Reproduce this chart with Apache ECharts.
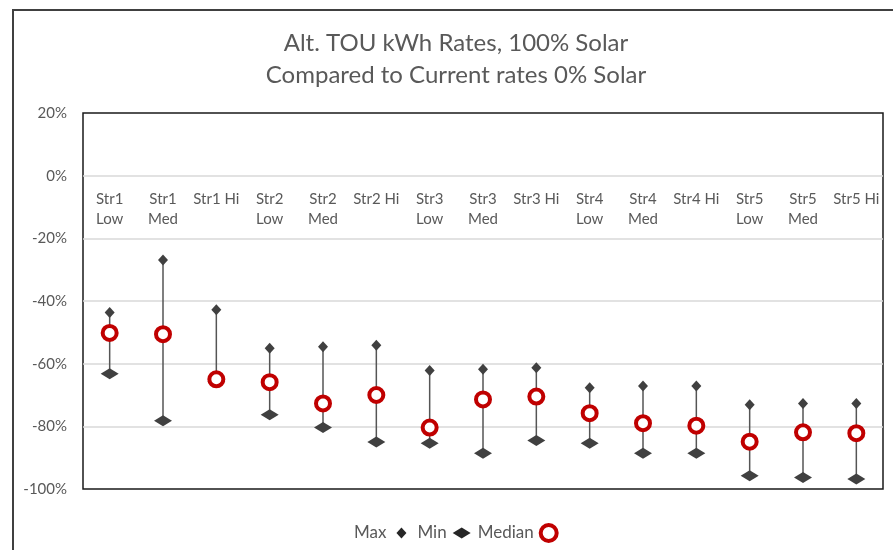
<!DOCTYPE html>
<html>
<head>
<meta charset="utf-8">
<title>Alt. TOU kWh Rates, 100% Solar</title>
<script src="https://cdn.jsdelivr.net/npm/echarts@6/dist/echarts.min.js"></script>
<style>
  html, body { margin: 0; padding: 0; background: #fff; }
  #chart { width: 893px; height: 550px; }
</style>
</head>
<body>
<div id="chart"></div>
<script>
// rate category per strata / usage level
var categories = [
  'Str1\nLow', 'Str1\nMed', 'Str1 Hi',
  'Str2\nLow', 'Str2\nMed', 'Str2 Hi',
  'Str3\nLow', 'Str3\nMed', 'Str3 Hi',
  'Str4\nLow', 'Str4\nMed', 'Str4 Hi',
  'Str5\nLow', 'Str5\nMed', 'Str5 Hi'
];
// % change vs current rates
var maxValues = [-43.7, -26.9, -42.8, -55.1, -54.6, -54.1, -62.2, -61.8, -61.3, -67.7, -67.1, -67.1, -73.1, -72.7, -72.7];
var minValues = [-63.2, -78.2, -65.7, -76.3, -80.4, -85.0, -85.4, -88.6, -84.5, -85.4, -88.6, -88.6, -95.8, -96.3, -96.8];
var medianValues = [-50.2, -50.6, -65.0, -65.9, -72.7, -70.0, -80.4, -71.4, -70.5, -75.8, -79.0, -79.8, -84.9, -81.9, -82.2];
var yTicks = { min: -100, max: 20, step: 20 };

var textColor = '#595959';
var markColor = '#404040';
var fontFamily = 'Lato, "Open Sans", sans-serif';

var gridTop = 113;
var gridBottom = 61;
var gridHeight = 550 - gridTop - gridBottom;
// category labels sit just under the 0% line, as in the original
var zeroOffset = -gridHeight * (0 - yTicks.min) / (yTicks.max - yTicks.min);

var chart = echarts.init(document.getElementById('chart'));

// whisker data: [index, min, max]
var whiskers = categories.map(function (c, i) {
  return [i, minValues[i], maxValues[i]];
});

var option = {
  animation: false,
  textStyle: { fontFamily: fontFamily },
  title: {
    text: 'Alt. TOU kWh Rates, 100% Solar\nCompared to Current rates 0% Solar',
    left: 451,
    top: 22,
    padding: 5,
    textAlign: 'center',
    textStyle: {
      fontFamily: fontFamily,
      fontWeight: 'normal',
      fontSize: 24,
      lineHeight: 32,
      color: textColor
    }
  },
  legend: {
    top: 518,
    left: 349,
    padding: 5,
    align: 'right',
    itemGap: 6,
    itemWidth: 20,
    itemHeight: 16,
    textStyle: { fontFamily: fontFamily, fontSize: 17, color: textColor },
    data: [
      // padded paths so each marker keeps its own size inside the legend box
      { name: 'Max', icon: 'path://M0,0 M20,16 M10,2.5 L15,8 L10,13.5 L5,8 Z', itemStyle: { color: '#262626' } },
      { name: 'Min', icon: 'path://M0,0 M20,16 M10,2.5 L19,8 L10,13.5 L1,8 Z', itemStyle: { color: '#262626' } },
      { name: 'Median', icon: 'circle', itemStyle: { color: '#ffffff', borderColor: '#C00000', borderWidth: 4 } }
    ]
  },
  graphic: [{
    type: 'rect',
    silent: true,
    shape: { x: 13, y: 10, width: 920, height: 600 },
    style: { fill: null, stroke: markColor, lineWidth: 2 }
  }],
  grid: {
    left: 83,
    top: gridTop,
    right: 10,
    bottom: gridBottom,
    show: true,
    borderColor: '#1a1a1a',
    borderWidth: 1.5,
    containLabel: false
  },
  xAxis: {
    type: 'category',
    data: categories,
    boundaryGap: true,
    position: 'bottom',
    offset: zeroOffset,
    axisLine: { show: false, onZero: false },
    axisTick: { show: false },
    axisLabel: {
      interval: 0,
      margin: 13,
      fontSize: 15,
      lineHeight: 20,
      color: textColor,
      verticalAlign: 'top'
    },
    splitLine: { show: false }
  },
  yAxis: {
    type: 'value',
    min: yTicks.min,
    max: yTicks.max,
    interval: yTicks.step,
    axisLine: { show: false },
    axisTick: { show: false },
    axisLabel: {
      formatter: '{value}%',
      fontSize: 15,
      color: textColor,
      margin: 16
    },
    splitLine: {
      showMinLine: false,
      showMaxLine: false,
      lineStyle: { color: '#d9d9d9', width: 1.5 }
    }
  },
  series: [
    {
      name: 'range',
      type: 'custom',
      z: 1,
      silent: true,
      data: whiskers,
      renderItem: function (params, api) {
        var top = api.coord([api.value(0), api.value(2)]);
        var bottom = api.coord([api.value(0), api.value(1)]);
        return {
          type: 'line',
          shape: { x1: top[0], y1: top[1], x2: bottom[0], y2: bottom[1] },
          style: { stroke: '#555555', lineWidth: 1.5 }
        };
      }
    },
    {
      name: 'Max',
      type: 'scatter',
      z: 3,
      symbol: 'diamond',
      symbolSize: [10, 11],
      itemStyle: { color: markColor, opacity: 1 },
      data: maxValues
    },
    {
      name: 'Min',
      type: 'scatter',
      z: 3,
      symbol: 'diamond',
      symbolSize: [18, 11],
      itemStyle: { color: markColor, opacity: 1 },
      data: minValues
    },
    {
      name: 'Median',
      type: 'scatter',
      z: 4,
      symbol: 'circle',
      symbolSize: 14,
      itemStyle: { color: '#ffffff', borderColor: '#C00000', borderWidth: 4, opacity: 1 },
      data: medianValues
    }
  ]
};

chart.setOption(option);
</script>
</body>
</html>
